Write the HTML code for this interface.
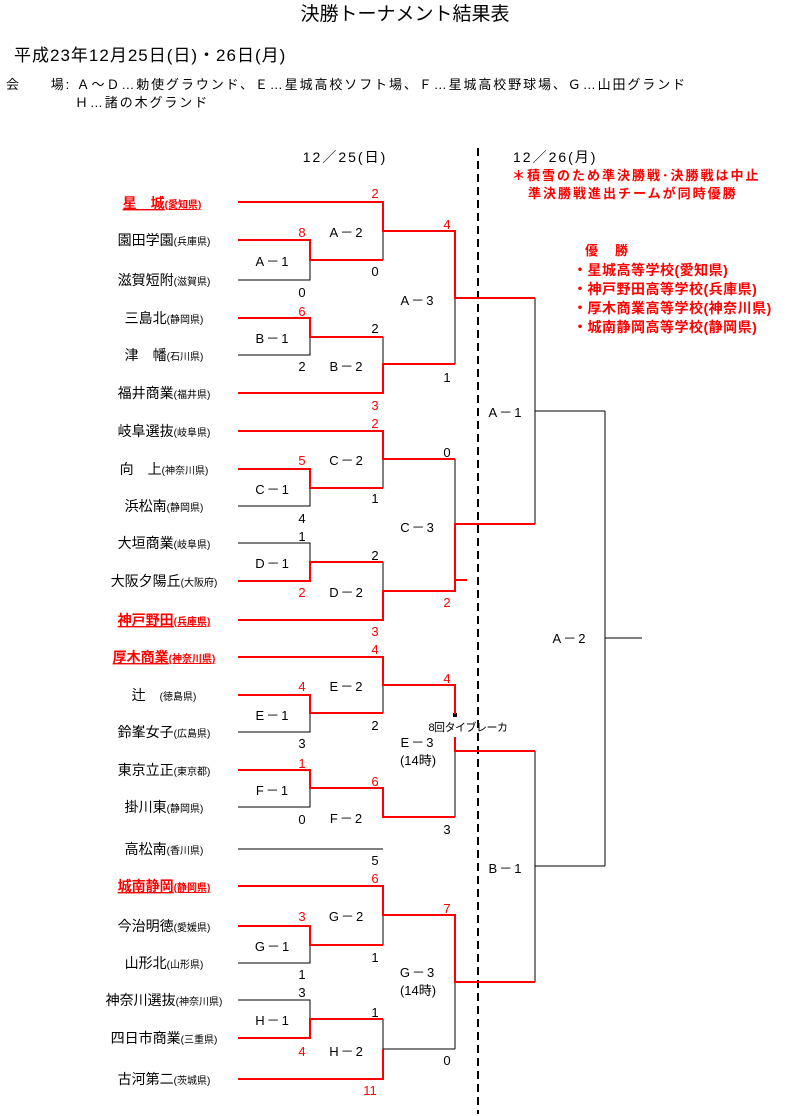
<!DOCTYPE html>
<html><head><meta charset="utf-8"><style>
html,body{margin:0;padding:0;background:#fff;}
svg{display:block;}
text{font-family:"Liberation Sans","Noto Sans CJK JP","IPAGothic",sans-serif;}
.n{font-size:14px;fill:#000;text-anchor:middle;}
.nr{font-size:14px;fill:#f00;text-anchor:middle;font-weight:bold;text-decoration:underline;}
.p{font-size:10px;}
.s{font-size:13px;fill:#000;text-anchor:middle;}
.sr{font-size:13px;fill:#f00;text-anchor:middle;}
.l{font-size:13px;fill:#000;text-anchor:middle;letter-spacing:2px;}
.rn{font-size:13px;fill:#f00;font-weight:bold;letter-spacing:2px;}
.rl{font-size:14px;fill:#f00;font-weight:bold;letter-spacing:0.5px;}
</style></head><body>
<svg width="807" height="1116" viewBox="0 0 807 1116" xmlns="http://www.w3.org/2000/svg">
<text x="405" y="20" style="font-size:19px;text-anchor:middle">決勝トーナメント結果表</text>
<text x="14" y="61" style="font-size:17px;letter-spacing:1px">平成23年12月25日(日)・26日(月)</text>
<text x="6" y="89" style="font-size:13px;letter-spacing:1.9px">会　　場: Ａ～Ｄ…勅使グラウンド、Ｅ…星城高校ソフト場、Ｆ…星城高校野球場、Ｇ…山田グランド</text>
<text x="75" y="107" style="font-size:13px;letter-spacing:1.9px">Ｈ…諸の木グランド</text>
<text x="345" y="162" style="font-size:14px;text-anchor:middle;letter-spacing:2px">12／25(日)</text>
<text x="513" y="162" style="font-size:14px;letter-spacing:2px">12／26(月)</text>
<text x="512" y="180" class="rn">＊積雪のため準決勝戦･決勝戦は中止</text>
<text x="528" y="198" class="rn">準決勝戦進出チームが同時優勝</text>
<text x="585" y="255" class="rn">優　勝</text>
<text x="573" y="275" class="rl">・星城高等学校(愛知県)</text>
<text x="573" y="294" class="rl">・神戸野田高等学校(兵庫県)</text>
<text x="573" y="313" class="rl">・厚木商業高等学校(神奈川県)</text>
<text x="573" y="332" class="rl">・城南静岡高等学校(静岡県)</text>

<line x1="478" y1="148" x2="478" y2="1114" stroke="#000" stroke-width="2" stroke-dasharray="8,5"/>

<g fill="none" stroke="#000" stroke-width="1">
<path d="M238 280H310V260M383 231V260M455 298V364M238 355H310V337M383 337V364"/>
<path d="M238 506H310V488M383 459V488M455 459V524M238 543H310V562M383 562V591"/>
<path d="M535 298V524M535 411H605"/>
<path d="M238 732H310V713M383 685V713M455 751V817M238 807H310V788M238 849H383"/>
<path d="M238 963H310V945M383 915V945M455 982V1049M238 1000H310V1019M383 1019V1049H455"/>
<path d="M535 751V982M535 866H605M605 411V866M605 638H642"/>
</g>
<rect x="453" y="713" width="4" height="4" fill="#000"/>
<g fill="none" stroke="#f00" stroke-width="2">
<path d="M238 202H383V231H455V298H535M238 240H310V260H383M238 318H310V337H383M238 393H383V364H455"/>
<path d="M238 431H383V459H455M238 469H310V488H383M238 581H310V562H383M238 620H383V591H455V524H535M455 580H467"/>
<path d="M238 657H383V685H455V714M455 737V751H535M238 695H310V713H383M238 770H310V788H383V817H455"/>
<path d="M238 886H383V915H455V982H535M238 926H310V945H383M238 1038H310V1019H383M238 1079H383V1049"/>
</g>

<text x="162" y="208" class="nr">星　城<tspan class="p">(愛知県)</tspan></text>
<text x="164" y="245" class="n">園田学園<tspan class="p">(兵庫県)</tspan></text>
<text x="164" y="285" class="n">滋賀短附<tspan class="p">(滋賀県)</tspan></text>
<text x="164" y="323" class="n">三島北<tspan class="p">(静岡県)</tspan></text>
<text x="164" y="360" class="n">津　幡<tspan class="p">(石川県)</tspan></text>
<text x="164" y="398" class="n">福井商業<tspan class="p">(福井県)</tspan></text>
<text x="164" y="436" class="n">岐阜選抜<tspan class="p">(岐阜県)</tspan></text>
<text x="164" y="474" class="n">向　上<tspan class="p">(神奈川県)</tspan></text>
<text x="164" y="511" class="n">浜松南<tspan class="p">(静岡県)</tspan></text>
<text x="164" y="548" class="n">大垣商業<tspan class="p">(岐阜県)</tspan></text>
<text x="164" y="586" class="n">大阪夕陽丘<tspan class="p">(大阪府)</tspan></text>
<text x="164" y="625" class="nr">神戸野田<tspan class="p">(兵庫県)</tspan></text>
<text x="164" y="662" class="nr">厚木商業<tspan class="p">(神奈川県)</tspan></text>
<text x="164" y="700" class="n">辻　<tspan class="p">(徳島県)</tspan></text>
<text x="164" y="737" class="n">鈴峯女子<tspan class="p">(広島県)</tspan></text>
<text x="164" y="775" class="n">東京立正<tspan class="p">(東京都)</tspan></text>
<text x="164" y="812" class="n">掛川東<tspan class="p">(静岡県)</tspan></text>
<text x="164" y="854" class="n">高松南<tspan class="p">(香川県)</tspan></text>
<text x="164" y="891" class="nr">城南静岡<tspan class="p">(静岡県)</tspan></text>
<text x="164" y="931" class="n">今治明徳<tspan class="p">(愛媛県)</tspan></text>
<text x="164" y="968" class="n">山形北<tspan class="p">(山形県)</tspan></text>
<text x="164" y="1005" class="n">神奈川選抜<tspan class="p">(神奈川県)</tspan></text>
<text x="164" y="1043" class="n">四日市商業<tspan class="p">(三重県)</tspan></text>
<text x="164" y="1084" class="n">古河第二<tspan class="p">(茨城県)</tspan></text>

<text x="375" y="198" class="sr">2</text><text x="302" y="237" class="sr">8</text>
<text x="302" y="297" class="s">0</text><text x="375" y="276" class="s">0</text>
<text x="447" y="229" class="sr">4</text><text x="447" y="382" class="s">1</text>
<text x="302" y="316" class="sr">6</text><text x="375" y="333" class="s">2</text>
<text x="302" y="371" class="s">2</text><text x="375" y="410" class="sr">3</text>
<text x="375" y="428" class="sr">2</text><text x="302" y="465" class="sr">5</text>
<text x="375" y="503" class="s">1</text><text x="302" y="523" class="s">4</text>
<text x="447" y="457" class="s">0</text><text x="302" y="541" class="s">1</text>
<text x="375" y="560" class="s">2</text><text x="302" y="597" class="sr">2</text>
<text x="447" y="607" class="sr">2</text><text x="375" y="636" class="sr">3</text>
<text x="375" y="654" class="sr">4</text><text x="302" y="691" class="sr">4</text>
<text x="375" y="730" class="s">2</text><text x="302" y="748" class="s">3</text>
<text x="447" y="683" class="sr">4</text><text x="302" y="768" class="sr">1</text>
<text x="375" y="786" class="sr">6</text><text x="302" y="824" class="s">0</text>
<text x="375" y="865" class="s">5</text><text x="447" y="834" class="s">3</text>
<text x="375" y="883" class="sr">6</text><text x="302" y="921" class="sr">3</text>
<text x="375" y="962" class="s">1</text><text x="302" y="979" class="s">1</text>
<text x="447" y="913" class="sr">7</text><text x="302" y="997" class="s">3</text>
<text x="375" y="1017" class="s">1</text><text x="302" y="1056" class="sr">4</text>
<text x="370" y="1095" class="sr">11</text><text x="447" y="1065" class="s">0</text>

<text x="273" y="266" class="l">A－1</text><text x="347" y="237" class="l">A－2</text>
<text x="418" y="305" class="l">A－3</text><text x="273" y="343" class="l">B－1</text>
<text x="347" y="371" class="l">B－2</text><text x="347" y="465" class="l">C－2</text>
<text x="273" y="494" class="l">C－1</text><text x="418" y="532" class="l">C－3</text>
<text x="273" y="568" class="l">D－1</text><text x="347" y="597" class="l">D－2</text>
<text x="347" y="691" class="l">E－2</text><text x="273" y="720" class="l">E－1</text>
<text x="468" y="731" style="font-size:11px;text-anchor:middle;letter-spacing:-0.5px">8回タイブレーカ</text>
<text x="418" y="747" class="l">E－3</text><text x="418" y="765" class="s">(14時)</text>
<text x="273" y="795" class="l">F－1</text><text x="347" y="823" class="l">F－2</text>
<text x="347" y="921" class="l">G－2</text><text x="273" y="951" class="l">G－1</text>
<text x="418" y="977" class="l">G－3</text><text x="418" y="995" class="s">(14時)</text>
<text x="273" y="1025" class="l">H－1</text><text x="347" y="1056" class="l">H－2</text>
<text x="506" y="417" class="l">A－1</text><text x="506" y="873" class="l">B－1</text>
<text x="570" y="643" class="l">A－2</text>
</svg>
</body></html>
